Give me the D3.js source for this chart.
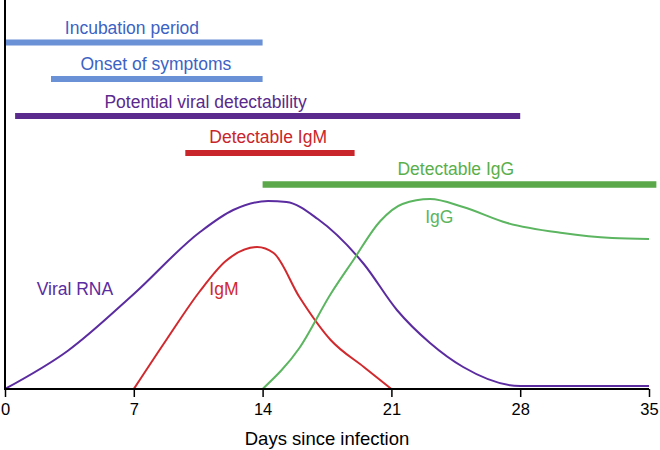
<!DOCTYPE html>
<html><head><meta charset="utf-8">
<script src="https://cdn.jsdelivr.net/npm/d3@7"></script>
<style>body{margin:0;background:#fff}svg{display:block}text{font-family:"Liberation Sans",Arial,sans-serif}</style>
</head><body><svg id="c" width="660" height="450"></svg>
<script>
// Data
const ticks = [0, 7, 14, 21, 28, 35];
const viralDays = [0, 3.4, 7, 10.6, 12.4, 14.3, 15.3, 17, 19.5, 21.3, 23.1, 24.9, 28, 35];
const viralVals = [0, 19, 47.5, 78.5, 89.5, 94, 93.5, 85, 62.5, 39.5, 23, 11, 1.5, 1.5];
const igmDays = [7, 8.8, 10.6, 12, 13.7, 14.6, 16, 17.7, 19.5, 21];
const igmVals = [0, 25, 49, 64, 71, 68, 46, 24.5, 11, 0];
const iggDays = [14, 16, 17.7, 18.9, 20.4, 21.6, 23.1, 24.9, 27.3, 30.3, 33, 35];
const iggVals = [0, 20.5, 47.5, 64, 84, 92.5, 95, 91, 83, 78, 75.5, 75];
const barNames = ["Incubation period", "Onset of symptoms", "Potential viral detectability", "Detectable IgM", "Detectable IgG"];
const barStart = [0, 2.5, 0.55, 9.8, 14];
const barEnd = [14, 14, 28, 19, 35.4];
const barLabelDay = [6.9, 8.2, 10.9, 14.3, 24.5];

const svg = d3.select("#c");
const x = d3.scaleLinear().domain([0, 35]).range([5, 649]);
const y = d3.scaleLinear().domain([0, 100]).range([389, 189]);

const barRow = [42.5, 79, 116, 153, 184.5];
const barLabelY = [34, 70, 108, 143, 175];
const barColor = ["#6a90d6", "#6a90d6", "#5a2a8c", "#c9262c", "#5aa84a"];
const textColor = ["#3c62c4", "#3c62c4", "#5a2a8c", "#c9262c", "#5aaf4a"];
const barW = [6, 6, 6, 6, 6.5];

barNames.forEach((n, i) => {
  svg.append("line").attr("x1", x(barStart[i])).attr("x2", x(barEnd[i]))
    .attr("y1", barRow[i]).attr("y2", barRow[i])
    .attr("stroke", barColor[i]).attr("stroke-width", barW[i]);
  svg.append("text").attr("x", x(barLabelDay[i])).attr("y", barLabelY[i])
    .attr("text-anchor", "middle").attr("font-size", 17.5).attr("fill", textColor[i]).text(n);
});

const line = d3.line().x(d => x(d[0])).y(d => y(d[1])).curve(d3.curveMonotoneX);
function curve(days, vals, color) {
  svg.append("path").datum(days.map((d, i) => [d, vals[i]]))
    .attr("d", line).attr("fill", "none").attr("stroke", color).attr("stroke-width", 2);
}
curve(viralDays, viralVals, "#5b2ca0");
curve(igmDays, igmVals, "#d02a2e");
curve(iggDays, iggVals, "#5cb560");

svg.append("text").attr("x", x(3.8)).attr("y", 295).attr("text-anchor", "middle")
  .attr("font-size", 17.5).attr("fill", "#5b2ca0").text("Viral RNA");
svg.append("text").attr("x", x(11.9)).attr("y", 295).attr("text-anchor", "middle")
  .attr("font-size", 17.5).attr("fill", "#d02a2e").text("IgM");
svg.append("text").attr("x", x(23.6)).attr("y", 223).attr("text-anchor", "middle")
  .attr("font-size", 17.5).attr("fill", "#5cb560").text("IgG");

// axes
const xAxis = d3.axisBottom(x).tickValues(ticks).tickSize(8).tickPadding(6);
const gx = svg.append("g").attr("transform", "translate(0,389)").call(xAxis);
gx.select(".domain").attr("stroke", "#000").attr("stroke-width", 2).attr("d", `M${x(0)},0H${x(35)}`);
gx.selectAll(".tick line").attr("stroke", "#000").attr("stroke-width", 1.5);
gx.selectAll(".tick text").attr("font-size", 16.5).attr("fill", "#000").attr("font-family", "Liberation Sans, Arial, sans-serif");
svg.append("line").attr("x1", 5).attr("x2", 5).attr("y1", 0).attr("y2", 390)
  .attr("stroke", "#000").attr("stroke-width", 2);
svg.append("text").attr("x", 327).attr("y", 445).attr("text-anchor", "middle")
  .attr("font-size", 18.5).attr("fill", "#000").text("Days since infection");
</script></body></html>
